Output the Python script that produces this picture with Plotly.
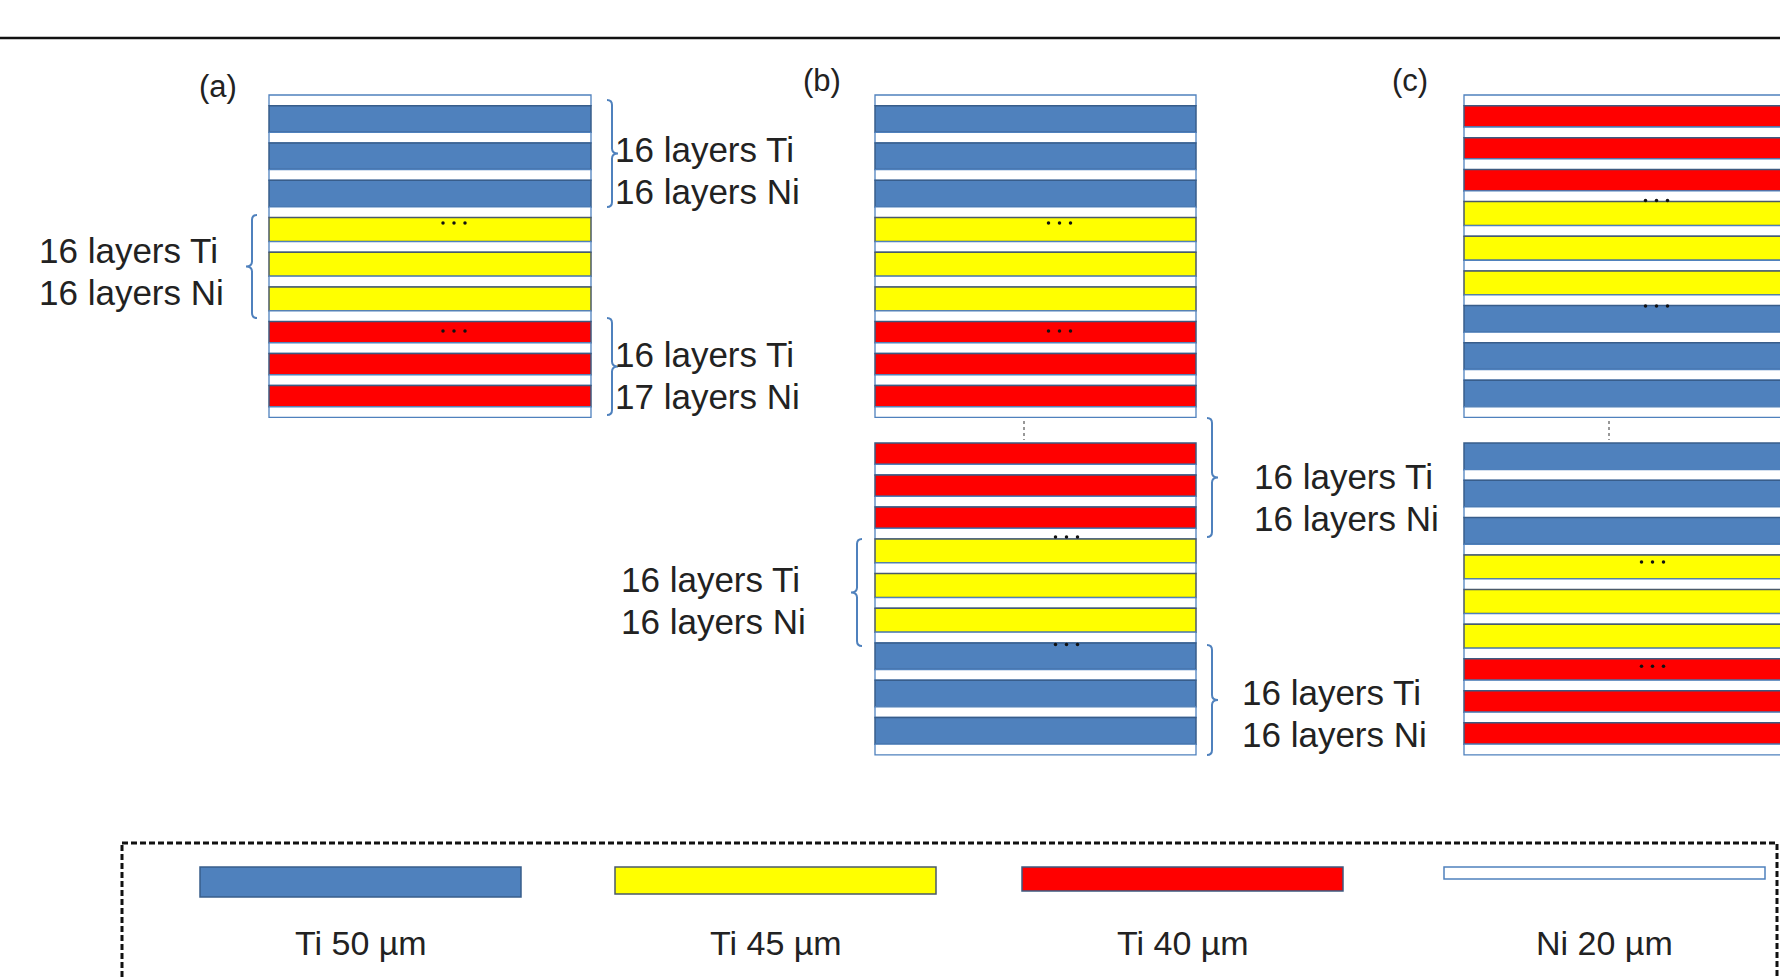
import plotly.graph_objects as go

# ---------------- data ----------------
materials = ["Ti 50 µm", "Ti 45 µm", "Ti 40 µm", "Ni 20 µm"]
thickness_um = [50, 45, 40, 20]
fill_colors = ["#4F81BD", "#FFFF00", "#FF0000", "#FFFFFF"]
edge_colors = ["#385D8A", "#4A5A6A", "#3D5A80", "#4F81BD"]
NI = 3

panel_labels = ["(a)", "(b)", "(c)"]
# order of Ti groups (index into materials), each group = 3 Ti layers each followed by Ni
stack_a = [0, 1, 2]
stack_b_top = [0, 1, 2]
stack_b_bottom = [2, 1, 0]
stack_c_top = [2, 1, 0]
stack_c_bottom = [0, 1, 2]
layers_per_group = 3

label_a_top = ["16 layers Ti", "16 layers Ni"]
label_a_left = ["16 layers Ti", "16 layers Ni"]
label_a_bottom = ["16 layers Ti", "17 layers Ni"]
label_b_right_top = ["16 layers Ti", "16 layers Ni"]
label_b_left = ["16 layers Ti", "16 layers Ni"]
label_b_right_bottom = ["16 layers Ti", "16 layers Ni"]

# ---------------- layout helpers ----------------
PX_PER_UM = 0.533
W, H = 1780, 977
FONT = "Liberation Sans, Arial, sans-serif"
TXT = "#222222"
BRACE = "#4F81BD"
LINE_GAP = 42

shapes = []
annotations = []
dot_x, dot_y = [], []


def rect(x0, x1, y0, y1, fill, edge, lw=1.5):
    shapes.append(dict(type="rect", xref="x", yref="y", x0=x0, x1=x1, y0=y0, y1=y1,
                       fillcolor=fill, line=dict(color=edge, width=lw), layer="below"))


def draw_stack(x0, x1, ytop, groups, lead_ni, dot_offsets, dot_dx):
    y = ytop
    starts = []
    if lead_ni:
        h = thickness_um[NI] * PX_PER_UM
        rect(x0, x1, y, y + h, fill_colors[NI], edge_colors[NI], 1.3)
        y += h
    for g in groups:
        starts.append(y)
        for _ in range(layers_per_group):
            h = thickness_um[g] * PX_PER_UM
            rect(x0, x1, y, y + h, fill_colors[g], edge_colors[g], 1.5)
            y += h
            h = thickness_um[NI] * PX_PER_UM
            rect(x0, x1, y, y + h, fill_colors[NI], edge_colors[NI], 1.3)
            y += h
    cx = (x0 + x1) / 2 + dot_dx
    for s, off in zip(starts[1:], dot_offsets):
        for k in (-11, 0, 11):
            dot_x.append(cx + k)
            dot_y.append(s + off)
    return y


def brace(xb, y0, y1, side, tip=6, hook=5):
    # side = +1 : "}" (tip to the right); side = -1 : "{" (tip to the left)
    ym = (y0 + y1) / 2
    hk = -hook * side
    t = tip * side
    p = (f"M {xb+hk},{y0} Q {xb},{y0} {xb},{y0+hook} L {xb},{ym-hook} "
         f"Q {xb},{ym} {xb+t},{ym} Q {xb},{ym} {xb},{ym+hook} "
         f"L {xb},{y1-hook} Q {xb},{y1} {xb+hk},{y1}")
    shapes.append(dict(type="path", xref="x", yref="y", path=p,
                       line=dict(color=BRACE, width=2), layer="above"))


def label(x, y_first, lines, size=35):
    for i, ln in enumerate(lines):
        annotations.append(dict(x=x, y=y_first + i * LINE_GAP, xref="x", yref="y", text=ln,
                                showarrow=False, xanchor="left", yanchor="middle", align="left",
                                font=dict(family=FONT, size=size, color=TXT)))


# top rule
shapes.append(dict(type="line", xref="x", yref="y", x0=0, x1=W, y0=38, y1=38,
                   line=dict(color="#111111", width=2.4), layer="above"))

# stacks
draw_stack(269, 591, 95, stack_a, True, (5.5, 9.5), 24)
draw_stack(875, 1196, 95, stack_b_top, True, (5.5, 9.5), 24)
draw_stack(875, 1196, 443, stack_b_bottom, False, (-2, 1.5), 31)
draw_stack(1464, 1785, 95, stack_c_top, True, (-1, 0.5), 32)
draw_stack(1464, 1785, 443, stack_c_bottom, False, (7, 7.5), 28)

# vertical dotted continuation marks
for xv in (1024, 1609):
    shapes.append(dict(type="line", xref="x", yref="y", x0=xv, x1=xv, y0=421, y1=440,
                       line=dict(color="#777777", width=1.5, dash="dot"), layer="above"))

# braces
brace(612, 100, 207, +1)
brace(612, 318, 415, +1)
brace(252, 215, 318, -1)
brace(1212, 418, 537, +1)
brace(1212, 645, 755, +1)
brace(857, 539, 646, -1)

# panel labels
for (px, py), t in zip([(218, 86), (822, 80), (1410, 80)], panel_labels):
    annotations.append(dict(x=px, y=py, xref="x", yref="y", text=t, showarrow=False,
                            xanchor="center", yanchor="middle",
                            font=dict(family=FONT, size=31, color=TXT)))

# side labels (y of first line centre)
label(613, 149, label_a_top)
label(613, 354, label_a_bottom)
label(37, 250, label_a_left)
label(1252, 476, label_b_right_top)
label(619, 579, label_b_left)
label(1240, 692, label_b_right_bottom)

# legend box
shapes.append(dict(type="rect", xref="x", yref="y", x0=122, x1=1777, y0=843, y1=1010,
                   fillcolor="rgba(0,0,0,0)", line=dict(color="#111111", width=3, dash="6px,3px"),
                   layer="above"))
legend_x0 = [200, 615, 1022, 1444]
legend_w = 321
legend_top = 867
LEG_SCALE = 0.6
for i, m in enumerate(materials):
    h = thickness_um[i] * LEG_SCALE
    rect(legend_x0[i], legend_x0[i] + legend_w, legend_top, legend_top + h,
         fill_colors[i], edge_colors[i], 1.5)
    annotations.append(dict(x=legend_x0[i] + legend_w / 2, y=943, xref="x", yref="y", text=m,
                            showarrow=False, xanchor="center", yanchor="middle",
                            font=dict(family=FONT, size=34, color=TXT)))

fig = go.Figure()
fig.add_trace(go.Scatter(x=dot_x, y=dot_y, mode="markers",
                         marker=dict(size=3.5, color="#111111"), hoverinfo="skip",
                         showlegend=False))
fig.update_layout(
    width=W, height=H, margin=dict(l=0, r=0, t=0, b=0),
    paper_bgcolor="white", plot_bgcolor="white",
    xaxis=dict(range=[0, W], visible=False, fixedrange=True),
    yaxis=dict(range=[H, 0], visible=False, fixedrange=True),
    shapes=shapes, annotations=annotations, showlegend=False,
)
fig.write_html("out.html", config={"displayModeBar": False},
               post_script="document.body.style.margin='0';document.body.style.overflow='hidden';")
